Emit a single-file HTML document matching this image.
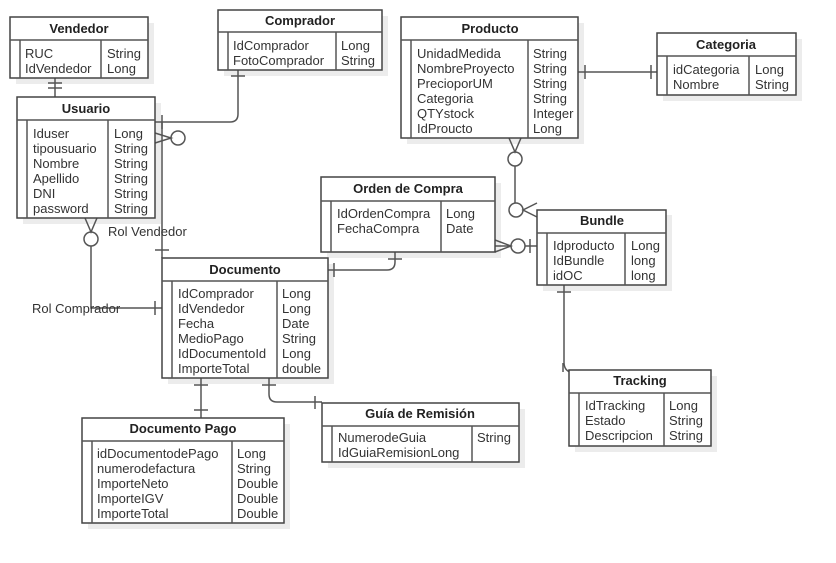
<!DOCTYPE html>
<html><head><meta charset="utf-8"><style>
html,body{margin:0;padding:0;background:#fff;}
svg{display:block;font-family:"Liberation Sans",Arial,sans-serif;}
.t{font-size:13px;fill:#333;}
.h{font-size:13px;font-weight:bold;fill:#222;text-anchor:middle;}
.b{fill:#fff;stroke:#444;stroke-width:1.5;}
.s{fill:#ececec;}
.l{fill:none;stroke:#555;stroke-width:1.5;}
</style></head><body>
<svg width="836" height="563" viewBox="0 0 836 563">
<!-- shadows -->
<g class="s">
<rect x="16" y="23" width="138" height="61"/>
<rect x="224" y="16" width="164" height="60"/>
<rect x="23" y="103" width="138" height="121"/>
<rect x="407" y="23" width="177" height="121"/>
<rect x="663" y="39" width="139" height="62"/>
<rect x="327" y="183" width="174" height="75"/>
<rect x="543" y="215" width="129" height="76"/>
<rect x="168" y="264" width="166" height="120"/>
<rect x="575" y="376" width="142" height="76"/>
<rect x="88" y="424" width="202" height="105"/>
<rect x="328" y="409" width="197" height="59"/>
</g>
<!-- connectors -->
<g class="l">
<line x1="55" y1="78" x2="55" y2="97"/><line x1="48" y1="83" x2="62" y2="83"/><line x1="48" y1="88" x2="62" y2="88"/>
<path d="M238 70 V114 Q238 122 230 122 H155"/><line x1="231" y1="76" x2="245" y2="76"/><line x1="162" y1="115" x2="162" y2="129"/>
<path d="M155 133 L171 138 L155 143"/><circle cx="178" cy="138" r="7"/>
<line x1="162" y1="122" x2="162" y2="258"/><line x1="155" y1="250" x2="169" y2="250"/>
<path d="M85 218 L91 232 L97 218"/><circle cx="91" cy="239" r="7"/><path d="M91 246 V308 H162"/><line x1="155" y1="301" x2="155" y2="315"/>
<path d="M328 270 H387 Q395 270 395 262 V252"/><line x1="334" y1="263" x2="334" y2="277"/><line x1="388" y1="259" x2="402" y2="259"/>
<path d="M495 240 L511 246 L495 252"/><line x1="495" y1="246" x2="511" y2="246"/><circle cx="518" cy="246" r="7"/><line x1="525" y1="246" x2="537" y2="246"/><line x1="530" y1="239" x2="530" y2="253"/>
<path d="M509 138 L515 152 L521 138"/><circle cx="515" cy="159" r="7"/><line x1="515" y1="166" x2="515" y2="203"/><circle cx="516" cy="210" r="7"/><path d="M537 203 L523 210 L537 217"/>
<line x1="578" y1="72" x2="657" y2="72"/><line x1="585" y1="65" x2="585" y2="79"/><line x1="651" y1="65" x2="651" y2="79"/>
<path d="M564 285 V362 Q564 370 570 372"/><line x1="557" y1="292" x2="571" y2="292"/><line x1="563" y1="363" x2="563" y2="372"/>
<line x1="201" y1="378" x2="201" y2="418"/><line x1="194" y1="385" x2="208" y2="385"/><line x1="194" y1="410" x2="208" y2="410"/>
<path d="M269 378 V394 Q269 402 277 402 H322"/><line x1="262" y1="385" x2="276" y2="385"/><line x1="315" y1="396" x2="315" y2="409"/>
</g>
<!-- entities -->
<g>
<rect class="b" x="10" y="17" width="138" height="61"/><line class="l" x1="10" y1="40" x2="148" y2="40"/><line class="l" x1="20" y1="40" x2="20" y2="78"/><line class="l" x1="101" y1="40" x2="101" y2="78"/>
<text class="h" x="79" y="33">Vendedor</text>
<text class="t" x="25" y="58">RUC</text><text class="t" x="25" y="73">IdVendedor</text><text class="t" x="107" y="58">String</text><text class="t" x="107" y="73">Long</text>

<rect class="b" x="218" y="10" width="164" height="60"/><line class="l" x1="218" y1="32" x2="382" y2="32"/><line class="l" x1="228" y1="32" x2="228" y2="70"/><line class="l" x1="336" y1="32" x2="336" y2="70"/>
<text class="h" x="300" y="25">Comprador</text>
<text class="t" x="233" y="50">IdComprador</text><text class="t" x="233" y="65">FotoComprador</text><text class="t" x="341" y="50">Long</text><text class="t" x="341" y="65">String</text>

<rect class="b" x="17" y="97" width="138" height="121"/><line class="l" x1="17" y1="120" x2="155" y2="120"/><line class="l" x1="27" y1="120" x2="27" y2="218"/><line class="l" x1="108" y1="120" x2="108" y2="218"/>
<text class="h" x="86" y="113">Usuario</text>
<text class="t" x="33" y="138">Iduser</text><text class="t" x="33" y="153">tipousuario</text><text class="t" x="33" y="168">Nombre</text><text class="t" x="33" y="183">Apellido</text><text class="t" x="33" y="198">DNI</text><text class="t" x="33" y="213">password</text>
<text class="t" x="114" y="138">Long</text><text class="t" x="114" y="153">String</text><text class="t" x="114" y="168">String</text><text class="t" x="114" y="183">String</text><text class="t" x="114" y="198">String</text><text class="t" x="114" y="213">String</text>

<rect class="b" x="401" y="17" width="177" height="121"/><line class="l" x1="401" y1="40" x2="578" y2="40"/><line class="l" x1="411" y1="40" x2="411" y2="138"/><line class="l" x1="528" y1="40" x2="528" y2="138"/>
<text class="h" x="490" y="33">Producto</text>
<text class="t" x="417" y="58">UnidadMedida</text><text class="t" x="417" y="73">NombreProyecto</text><text class="t" x="417" y="88">PrecioporUM</text><text class="t" x="417" y="103">Categoria</text><text class="t" x="417" y="118">QTYstock</text><text class="t" x="417" y="133">IdProucto</text>
<text class="t" x="533" y="58">String</text><text class="t" x="533" y="73">String</text><text class="t" x="533" y="88">String</text><text class="t" x="533" y="103">String</text><text class="t" x="533" y="118">Integer</text><text class="t" x="533" y="133">Long</text>

<rect class="b" x="657" y="33" width="139" height="62"/><line class="l" x1="657" y1="56" x2="796" y2="56"/><line class="l" x1="667" y1="56" x2="667" y2="95"/><line class="l" x1="749" y1="56" x2="749" y2="95"/>
<text class="h" x="726" y="49">Categoria</text>
<text class="t" x="673" y="74">idCategoria</text><text class="t" x="673" y="89">Nombre</text><text class="t" x="755" y="74">Long</text><text class="t" x="755" y="89">String</text>

<rect class="b" x="321" y="177" width="174" height="75"/><line class="l" x1="321" y1="201" x2="495" y2="201"/><line class="l" x1="331" y1="201" x2="331" y2="252"/><line class="l" x1="441" y1="201" x2="441" y2="252"/>
<text class="h" x="408" y="193">Orden de Compra</text>
<text class="t" x="337" y="218">IdOrdenCompra</text><text class="t" x="337" y="233">FechaCompra</text><text class="t" x="446" y="218">Long</text><text class="t" x="446" y="233">Date</text>

<rect class="b" x="537" y="210" width="129" height="75"/><line class="l" x1="537" y1="233" x2="666" y2="233"/><line class="l" x1="547" y1="233" x2="547" y2="285"/><line class="l" x1="625" y1="233" x2="625" y2="285"/>
<text class="h" x="602" y="225">Bundle</text>
<text class="t" x="553" y="250">Idproducto</text><text class="t" x="553" y="265">IdBundle</text><text class="t" x="553" y="280">idOC</text>
<text class="t" x="631" y="250">Long</text><text class="t" x="631" y="265">long</text><text class="t" x="631" y="280">long</text>

<rect class="b" x="162" y="258" width="166" height="120"/><line class="l" x1="162" y1="281" x2="328" y2="281"/><line class="l" x1="172" y1="281" x2="172" y2="378"/><line class="l" x1="277" y1="281" x2="277" y2="378"/>
<text class="h" x="245" y="274">Documento</text>
<text class="t" x="178" y="298">IdComprador</text><text class="t" x="178" y="313">IdVendedor</text><text class="t" x="178" y="328">Fecha</text><text class="t" x="178" y="343">MedioPago</text><text class="t" x="178" y="358">IdDocumentoId</text><text class="t" x="178" y="373">ImporteTotal</text>
<text class="t" x="282" y="298">Long</text><text class="t" x="282" y="313">Long</text><text class="t" x="282" y="328">Date</text><text class="t" x="282" y="343">String</text><text class="t" x="282" y="358">Long</text><text class="t" x="282" y="373">double</text>

<rect class="b" x="569" y="370" width="142" height="76"/><line class="l" x1="569" y1="393" x2="711" y2="393"/><line class="l" x1="579" y1="393" x2="579" y2="446"/><line class="l" x1="664" y1="393" x2="664" y2="446"/>
<text class="h" x="640" y="385">Tracking</text>
<text class="t" x="585" y="410">IdTracking</text><text class="t" x="585" y="425">Estado</text><text class="t" x="585" y="440">Descripcion</text>
<text class="t" x="669" y="410">Long</text><text class="t" x="669" y="425">String</text><text class="t" x="669" y="440">String</text>

<rect class="b" x="82" y="418" width="202" height="105"/><line class="l" x1="82" y1="441" x2="284" y2="441"/><line class="l" x1="92" y1="441" x2="92" y2="523"/><line class="l" x1="232" y1="441" x2="232" y2="523"/>
<text class="h" x="183" y="433">Documento Pago</text>
<text class="t" x="97" y="458">idDocumentodePago</text><text class="t" x="97" y="473">numerodefactura</text><text class="t" x="97" y="488">ImporteNeto</text><text class="t" x="97" y="503">ImporteIGV</text><text class="t" x="97" y="518">ImporteTotal</text>
<text class="t" x="237" y="458">Long</text><text class="t" x="237" y="473">String</text><text class="t" x="237" y="488">Double</text><text class="t" x="237" y="503">Double</text><text class="t" x="237" y="518">Double</text>

<rect class="b" x="322" y="403" width="197" height="59"/><line class="l" x1="322" y1="426" x2="519" y2="426"/><line class="l" x1="332" y1="426" x2="332" y2="462"/><line class="l" x1="472" y1="426" x2="472" y2="462"/>
<text class="h" x="420" y="418">Guía de Remisión</text>
<text class="t" x="338" y="442">NumerodeGuia</text><text class="t" x="338" y="457">IdGuiaRemisionLong</text><text class="t" x="477" y="442">String</text>
</g>
<text class="t" x="108" y="236">Rol Vendedor</text>
<text class="t" x="32" y="313">Rol Comprador</text>
</svg>
</body></html>
